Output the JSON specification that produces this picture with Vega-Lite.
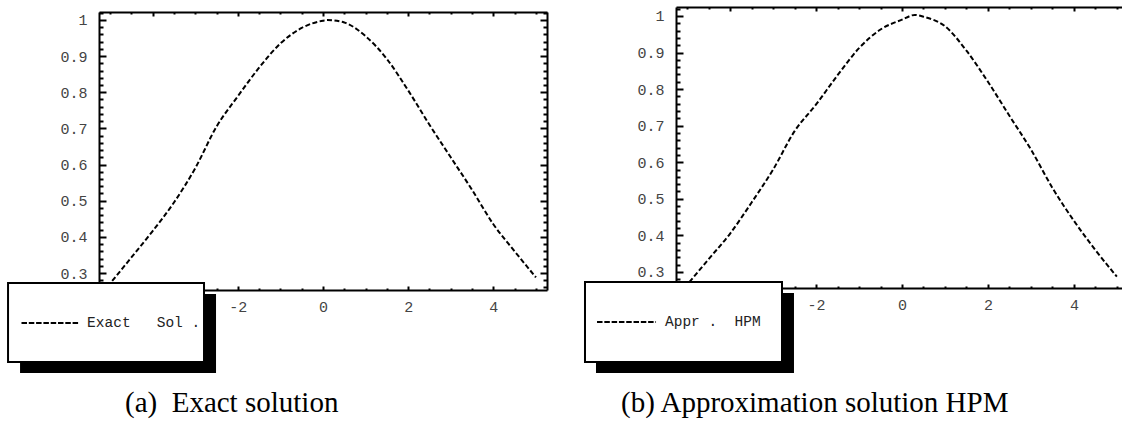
{
  "$schema": "https://vega.github.io/schema/vega-lite/v6.json",
  "background": "white",
  "padding": {"left": 7, "top": 1, "right": 0, "bottom": 0},
  "config": {
    "view": {"stroke": null},
    "axis": {
      "grid": false, "title": null, "domainColor": "black", "domainWidth": 2,
      "tickColor": "black", "tickWidth": 2, "labelFont": "Liberation Mono", "labelFontSize": 15,
      "labelColor": "#444", "labelOverlap": false, "labelFlush": false, "labelBound": false
    }
  },
  "datasets": {
    "exact": [
      {"x": -4.95, "u": 0.278}, {"x": -4.5, "u": 0.343}, {"x": -4.0, "u": 0.416}, {"x": -3.5, "u": 0.495},
      {"x": -3.0, "u": 0.59}, {"x": -2.5, "u": 0.705}, {"x": -2.0, "u": 0.789}, {"x": -1.5, "u": 0.868},
      {"x": -1.0, "u": 0.935}, {"x": -0.5, "u": 0.978}, {"x": 0.0, "u": 0.998}, {"x": 0.1, "u": 1.0},
      {"x": 0.5, "u": 0.993}, {"x": 1.0, "u": 0.955}, {"x": 1.5, "u": 0.892}, {"x": 2.0, "u": 0.805},
      {"x": 2.5, "u": 0.71}, {"x": 3.0, "u": 0.62}, {"x": 3.5, "u": 0.53}, {"x": 4.0, "u": 0.435},
      {"x": 4.5, "u": 0.36}, {"x": 5.0, "u": 0.288}
    ],
    "hpm": [
      {"x": -4.95, "u": 0.272}, {"x": -4.5, "u": 0.335}, {"x": -4.0, "u": 0.405}, {"x": -3.5, "u": 0.49},
      {"x": -3.0, "u": 0.58}, {"x": -2.5, "u": 0.685}, {"x": -2.0, "u": 0.758}, {"x": -1.5, "u": 0.838},
      {"x": -1.0, "u": 0.912}, {"x": -0.5, "u": 0.963}, {"x": 0.0, "u": 0.99}, {"x": 0.3, "u": 1.003},
      {"x": 0.5, "u": 0.998}, {"x": 1.0, "u": 0.972}, {"x": 1.5, "u": 0.905}, {"x": 2.0, "u": 0.82},
      {"x": 2.5, "u": 0.727}, {"x": 3.0, "u": 0.635}, {"x": 3.5, "u": 0.53}, {"x": 4.0, "u": 0.44},
      {"x": 4.5, "u": 0.36}, {"x": 5.0, "u": 0.287}
    ],
    "one": [{}]
  },
  "spacing": 35,
  "hconcat": [
    {
      "width": 448,
      "height": 283,
      "resolve": {"axis": {"x": "independent", "y": "independent"}},
      "layer": [
        {
          "data": {"name": "exact"},
          "mark": {"type": "line", "color": "black", "strokeWidth": 2, "strokeDash": [5, 2.5], "interpolate": "monotone", "clip": false},
          "encoding": {
            "x": {"field": "x", "type": "quantitative", "scale": {"domain": [-5.26, 5.26], "nice": false, "zero": false},
              "axis": {"orient": "bottom", "values": [-5,-4.5,-4,-3.5,-3,-2.5,-2,-1.5,-1,-0.5,0,0.5,1,1.5,2,2.5,3,3.5,4,4.5,5],
                "labelExpr": "datum.value % 2 === 0 ? '' + datum.value : ''",
                "tickSize": {"condition": {"test": "datum.value % 2 === 0", "value": -4}, "value": -2},
                "labelPadding": 13}},
            "y": {"field": "u", "type": "quantitative", "scale": {"domain": [0.253, 1.022], "nice": false, "zero": false, "rangeMax": 5},
              "axis": {"orient": "left", "values": [0.26,0.28,0.3,0.32,0.34,0.36,0.38,0.4,0.42,0.44,0.46,0.48,0.5,0.52,0.54,0.56,0.58,0.6,0.62,0.64,0.66,0.68,0.7,0.72,0.74,0.76,0.78,0.8,0.82,0.84,0.86,0.88,0.9,0.92,0.94,0.96,0.98,1,1.02],
                "labelExpr": "abs(datum.value*10 - round(datum.value*10)) < 0.01 ? '' + round(datum.value*10)/10 : ''",
                "tickSize": {"condition": {"test": "abs(datum.value*10 - round(datum.value*10)) < 0.01", "value": -7}, "value": -4},
                "labelPadding": 19}}
          }
        },
        {
          "data": {"name": "exact"},
          "mark": {"type": "point", "opacity": 0},
          "encoding": {
            "x": {"field": "x", "type": "quantitative", "scale": {"domain": [-5.26, 5.26], "nice": false, "zero": false},
              "axis": {"orient": "top", "offset": -5, "labels": false, "values": [-5,-4.5,-4,-3.5,-3,-2.5,-2,-1.5,-1,-0.5,0,0.5,1,1.5,2,2.5,3,3.5,4,4.5,5],
                "tickSize": {"condition": {"test": "datum.value % 2 === 0", "value": -4}, "value": -2}}},
            "y": {"field": "u", "type": "quantitative", "scale": {"domain": [0.253, 1.022], "nice": false, "zero": false, "rangeMax": 5},
              "axis": {"orient": "right", "labels": false, "values": [0.26,0.28,0.3,0.32,0.34,0.36,0.38,0.4,0.42,0.44,0.46,0.48,0.5,0.52,0.54,0.56,0.58,0.6,0.62,0.64,0.66,0.68,0.7,0.72,0.74,0.76,0.78,0.8,0.82,0.84,0.86,0.88,0.9,0.92,0.94,0.96,0.98,1,1.02],
                "tickSize": {"condition": {"test": "abs(datum.value*10 - round(datum.value*10)) < 0.01", "value": -7}, "value": -4}}}
          }
        },
        {
          "data": {"name": "one"},
          "mark": {"type": "rect", "color": "black", "clip": false},
          "encoding": {
            "x": {"datum": -7.114, "type": "quantitative", "axis": null, "scale": {"domain": [-5.26, 5.26], "nice": false, "zero": false}},
            "x2": {"datum": -2.512},
            "y": {"datum": 0.242, "type": "quantitative", "axis": null, "scale": {"domain": [0.253, 1.022], "nice": false, "zero": false, "rangeMax": 5}},
            "y2": {"datum": 0.0234}
          }
        },
        {
          "data": {"name": "one"},
          "mark": {"type": "rect", "fill": "white", "stroke": "black", "strokeWidth": 2, "clip": false},
          "encoding": {
            "x": {"datum": -7.396, "type": "quantitative", "axis": null, "scale": {"domain": [-5.26, 5.26], "nice": false, "zero": false}},
            "x2": {"datum": -2.794},
            "y": {"datum": 0.2723, "type": "quantitative", "axis": null, "scale": {"domain": [0.253, 1.022], "nice": false, "zero": false, "rangeMax": 5}},
            "y2": {"datum": 0.0538}
          }
        },
        {
          "data": {"name": "one"},
          "mark": {"type": "rule", "color": "black", "strokeWidth": 2, "strokeDash": [5.5, 1.8], "clip": false},
          "encoding": {
            "x": {"datum": -7.08, "type": "quantitative", "axis": null, "scale": {"domain": [-5.26, 5.26], "nice": false, "zero": false}},
            "x2": {"datum": -5.72},
            "y": {"datum": 0.1617, "type": "quantitative", "axis": null, "scale": {"domain": [0.253, 1.022], "nice": false, "zero": false, "rangeMax": 5}}
          }
        },
        {
          "data": {"name": "one"},
          "mark": {"type": "text", "font": "Liberation Mono", "fontSize": 14.5, "color": "#222", "align": "left", "baseline": "middle", "clip": false},
          "encoding": {
            "text": {"value": "Exact\u00a0\u00a0\u00a0Sol\u00a0."},
            "x": {"datum": -5.54, "type": "quantitative", "axis": null, "scale": {"domain": [-5.26, 5.26], "nice": false, "zero": false}},
            "y": {"datum": 0.1617, "type": "quantitative", "axis": null, "scale": {"domain": [0.253, 1.022], "nice": false, "zero": false, "rangeMax": 5}}
          }
        },
        {
          "data": {"name": "one"},
          "mark": {"type": "text", "font": "Liberation Serif", "fontSize": 29, "color": "black", "align": "left", "baseline": "alphabetic", "clip": false},
          "encoding": {
            "text": {"value": "(a)\u00a0 Exact solution"},
            "x": {"datum": -4.65, "type": "quantitative", "axis": null, "scale": {"domain": [-5.26, 5.26], "nice": false, "zero": false}},
            "y": {"datum": -0.0845, "type": "quantitative", "axis": null, "scale": {"domain": [0.253, 1.022], "nice": false, "zero": false, "rangeMax": 5}}
          }
        }
      ]
    },
    {
      "width": 446,
      "height": 281,
      "resolve": {"axis": {"x": "independent", "y": "independent"}},
      "layer": [
        {
          "data": {"name": "hpm"},
          "mark": {"type": "line", "color": "black", "strokeWidth": 2, "strokeDash": [5, 2.5], "interpolate": "monotone", "clip": false},
          "encoding": {
            "x": {"field": "x", "type": "quantitative", "scale": {"domain": [-5.26, 5.12], "nice": false, "zero": false},
              "axis": {"orient": "bottom", "values": [-5,-4.5,-4,-3.5,-3,-2.5,-2,-1.5,-1,-0.5,0,0.5,1,1.5,2,2.5,3,3.5,4,4.5,5],
                "labelExpr": "datum.value % 2 === 0 ? '' + datum.value : ''",
                "tickSize": {"condition": {"test": "datum.value % 2 === 0", "value": -4}, "value": -2},
                "labelPadding": 13}},
            "y": {"field": "u", "type": "quantitative", "scale": {"domain": [0.256, 1.0246], "nice": false, "zero": false},
              "axis": {"orient": "left", "values": [0.26,0.28,0.3,0.32,0.34,0.36,0.38,0.4,0.42,0.44,0.46,0.48,0.5,0.52,0.54,0.56,0.58,0.6,0.62,0.64,0.66,0.68,0.7,0.72,0.74,0.76,0.78,0.8,0.82,0.84,0.86,0.88,0.9,0.92,0.94,0.96,0.98,1,1.02],
                "labelExpr": "abs(datum.value*10 - round(datum.value*10)) < 0.01 ? '' + round(datum.value*10)/10 : ''",
                "tickSize": {"condition": {"test": "abs(datum.value*10 - round(datum.value*10)) < 0.01", "value": -7}, "value": -4},
                "labelPadding": 19}}
          }
        },
        {
          "data": {"name": "hpm"},
          "mark": {"type": "point", "opacity": 0},
          "encoding": {
            "x": {"field": "x", "type": "quantitative", "scale": {"domain": [-5.26, 5.12], "nice": false, "zero": false},
              "axis": {"orient": "top", "labels": false, "values": [-5,-4.5,-4,-3.5,-3,-2.5,-2,-1.5,-1,-0.5,0,0.5,1,1.5,2,2.5,3,3.5,4,4.5,5],
                "tickSize": {"condition": {"test": "datum.value % 2 === 0", "value": -4}, "value": -2}}},
            "y": {"field": "u", "type": "quantitative", "scale": {"domain": [0.256, 1.0246], "nice": false, "zero": false}, "axis": null}
          }
        },
        {
          "data": {"name": "one"},
          "mark": {"type": "rect", "color": "black", "clip": false},
          "encoding": {
            "x": {"datum": -7.122, "type": "quantitative", "axis": null, "scale": {"domain": [-5.26, 5.12], "nice": false, "zero": false}},
            "x2": {"datum": -2.514},
            "y": {"datum": 0.2423, "type": "quantitative", "axis": null, "scale": {"domain": [0.256, 1.0246], "nice": false, "zero": false}},
            "y2": {"datum": 0.0235}
          }
        },
        {
          "data": {"name": "one"},
          "mark": {"type": "rect", "fill": "white", "stroke": "black", "strokeWidth": 2, "clip": false},
          "encoding": {
            "x": {"datum": -7.378, "type": "quantitative", "axis": null, "scale": {"domain": [-5.26, 5.12], "nice": false, "zero": false}},
            "x2": {"datum": -2.793},
            "y": {"datum": 0.2724, "type": "quantitative", "axis": null, "scale": {"domain": [0.256, 1.0246], "nice": false, "zero": false}},
            "y2": {"datum": 0.0536}
          }
        },
        {
          "data": {"name": "one"},
          "mark": {"type": "rule", "color": "black", "strokeWidth": 2, "strokeDash": [5.5, 1.8], "clip": false},
          "encoding": {
            "x": {"datum": -7.098, "type": "quantitative", "axis": null, "scale": {"domain": [-5.26, 5.12], "nice": false, "zero": false}},
            "x2": {"datum": -5.725},
            "y": {"datum": 0.163, "type": "quantitative", "axis": null, "scale": {"domain": [0.256, 1.0246], "nice": false, "zero": false}}
          }
        },
        {
          "data": {"name": "one"},
          "mark": {"type": "text", "font": "Liberation Mono", "fontSize": 14.5, "color": "#222", "align": "left", "baseline": "middle", "clip": false},
          "encoding": {
            "text": {"value": "Appr\u00a0.\u00a0\u00a0HPM"},
            "x": {"datum": -5.516, "type": "quantitative", "axis": null, "scale": {"domain": [-5.26, 5.12], "nice": false, "zero": false}},
            "y": {"datum": 0.163, "type": "quantitative", "axis": null, "scale": {"domain": [0.256, 1.0246], "nice": false, "zero": false}}
          }
        },
        {
          "data": {"name": "one"},
          "mark": {"type": "text", "font": "Liberation Serif", "fontSize": 29, "color": "black", "align": "left", "baseline": "alphabetic", "clip": false},
          "encoding": {
            "text": {"value": "(b) Approximation solution HPM"},
            "x": {"datum": -6.54, "type": "quantitative", "axis": null, "scale": {"domain": [-5.26, 5.12], "nice": false, "zero": false}},
            "y": {"datum": -0.083, "type": "quantitative", "axis": null, "scale": {"domain": [0.256, 1.0246], "nice": false, "zero": false}}
          }
        }
      ]
    }
  ]
}
